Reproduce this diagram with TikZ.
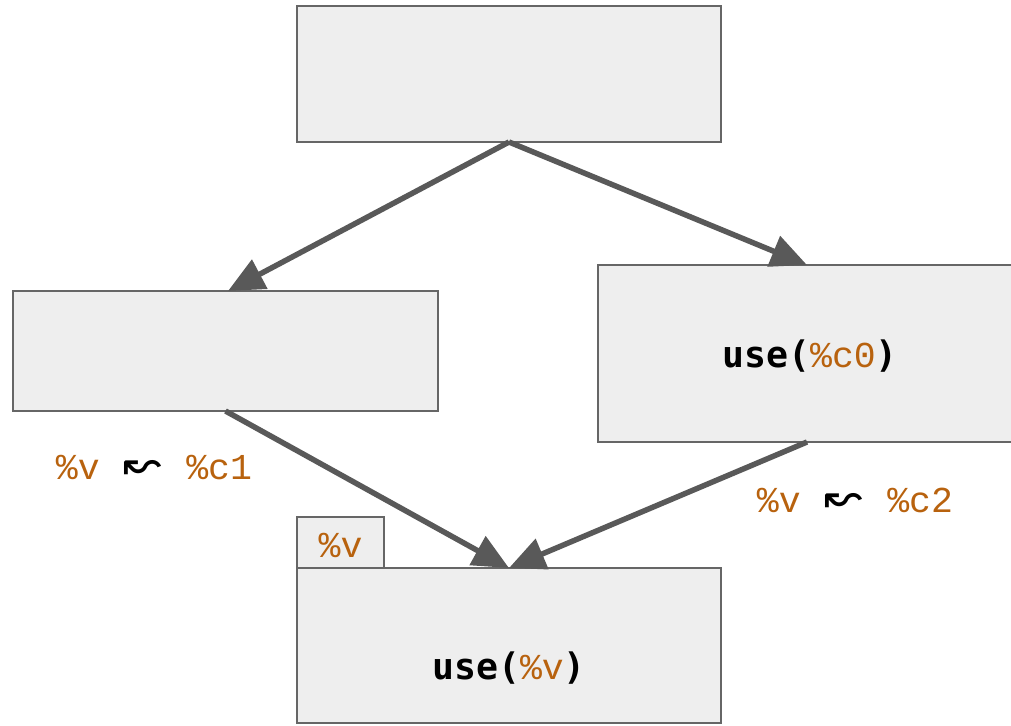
\documentclass[tikz,border=0pt]{standalone}
\usepackage{fontspec}
\setmonofont{Liberation Mono}
\newfontfamily\bmono{DejaVu Sans Mono}
\newfontfamily\arrfont{DejaVu Sans}
\usetikzlibrary{arrows.meta}
\definecolor{boxfill}{HTML}{EEEEEE}
\definecolor{boxline}{HTML}{666666}
\definecolor{arrowc}{HTML}{595959}
\definecolor{varc}{HTML}{B8620E}
\newcommand{\vr}[1]{{\ttfamily\mdseries\color{varc}#1}}
\newcommand{\wav}{{\arrfont\fontsize{46}{50}\selectfont ↜}}
\begin{document}
\begin{tikzpicture}[x=1pt,y=-1pt,
  blk/.style={draw=boxline,fill=boxfill,line width=1.8pt,inner sep=0pt,outer sep=0pt},
  txt/.style={font=\ttfamily\fontsize{36.5}{40}\selectfont,inner sep=0pt},
  btxt/.style={font=\bmono\bfseries\fontsize{36.5}{40}\selectfont,inner sep=0pt},
  conn/.style={draw=arrowc,line width=5.5pt,-{Triangle[length=36pt,width=32pt]}}]
\useasboundingbox (0,0) rectangle (1011,725);
\clip (0,0) rectangle (1011,725);
\node[blk,minimum width=424pt,minimum height=136pt] (top) at (509,74) {};
\node[blk,minimum width=425pt,minimum height=120pt] (lb) at (225.5,351) {};
\node[blk,minimum width=418pt,minimum height=177pt] (rb) at (807,353.5) {};
\node[blk,minimum width=424pt,minimum height=155pt] (bb) at (509,645.5) {};
\node[blk,minimum width=87pt,minimum height=51pt] (tab) at (340.5,542.5) {};
\node[txt] (tabt) at (340.5,545) {\vr{\%v}};
\node[btxt] (rbt) at (810,356) {use(\vr{\%c0})};
\node[btxt] (bbt) at (509,668) {use(\vr{\%v})};
\node[txt] (l1) at (154,468) {\vr{\%v}\hspace{24pt}\wav\hspace{24pt}\vr{\%c1}};
\node[txt] (l2) at (855,500) {\vr{\%v}\hspace{24pt}\wav\hspace{24pt}\vr{\%c2}};
\coordinate (lbin) at ([xshift=2.5pt]lb.north);
\draw[conn] (top.south) -- (lbin);
\draw[conn] (top.south) -- (rb.north);
\draw[conn] (lb.south) -- (bb.north);
\draw[conn] (rb.south) -- (bb.north);
\end{tikzpicture}
\end{document}
